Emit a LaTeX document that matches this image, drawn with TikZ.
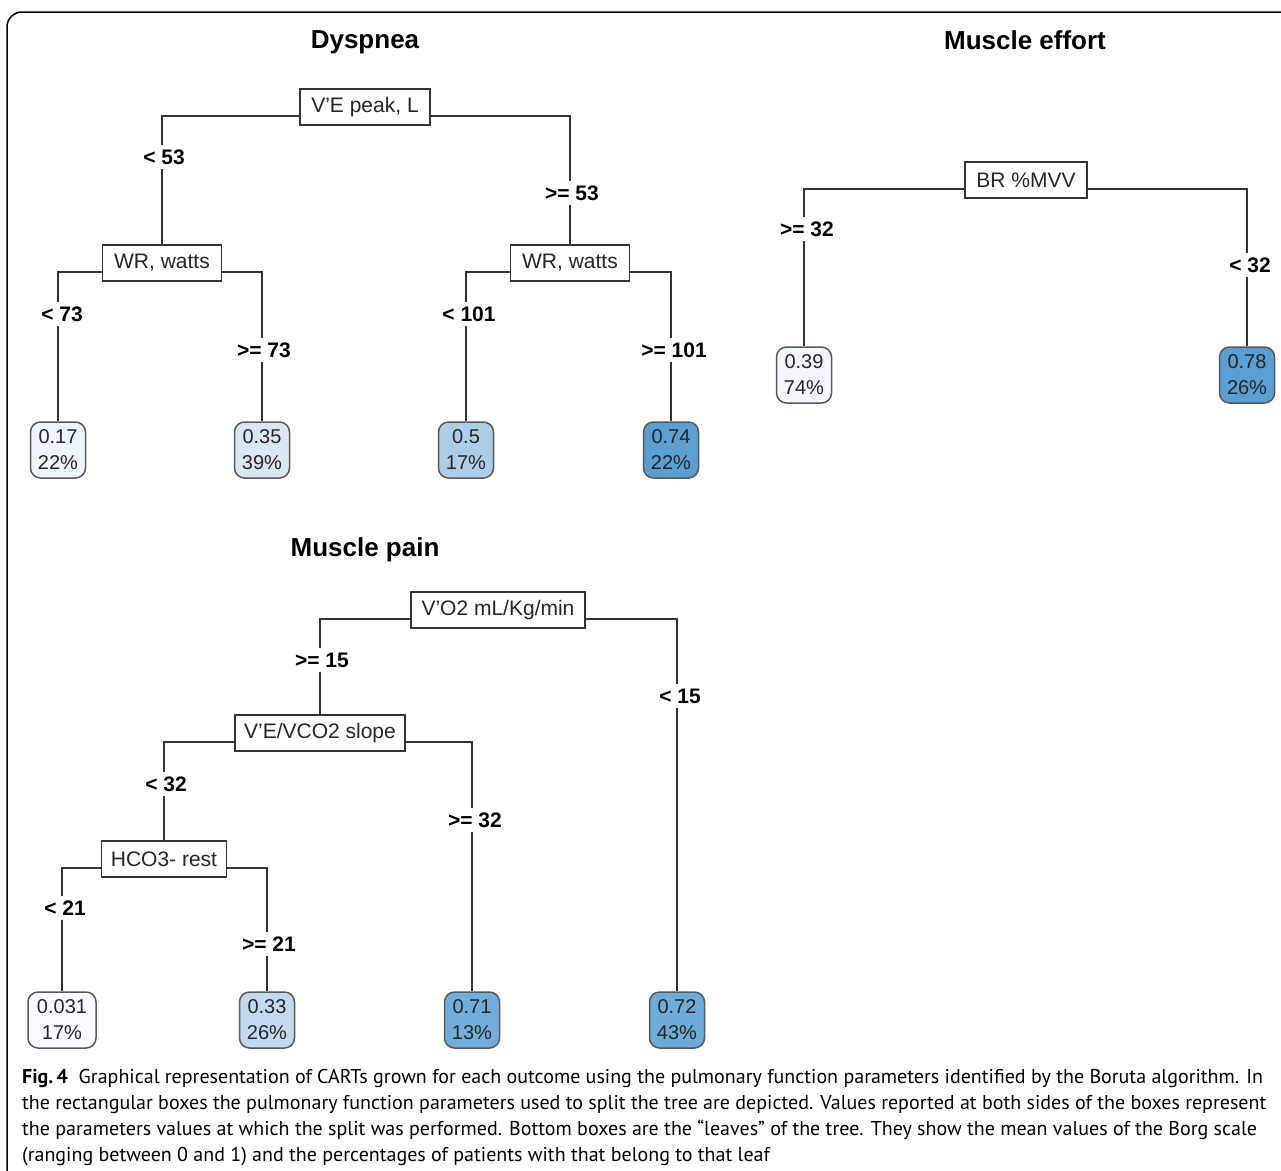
\documentclass[tikz,border=0pt]{standalone}
\usepackage{fontspec}
\setmainfont{Liberation Sans}
\newfontfamily\capfont{PT Sans}
\definecolor{edge}{HTML}{333333}
\definecolor{cA}{HTML}{EEF5FC}
\definecolor{cB}{HTML}{D9E7F5}
\definecolor{cC}{HTML}{ADCDE9}
\definecolor{cD}{HTML}{5C9ED2}
\definecolor{cE}{HTML}{F2F8FD}
\definecolor{cF}{HTML}{5A9ED3}
\definecolor{cG}{HTML}{FAFCFF}
\definecolor{cH}{HTML}{C3D9EF}
\definecolor{cI}{HTML}{72AEDB}
\definecolor{cJ}{HTML}{6EABD9}
\begin{document}
\begin{tikzpicture}[x=1pt,y=-1pt,
  splitbox/.style={draw=edge, line width=1.6pt, fill=white, inner sep=0pt,
    minimum height=36pt, text=black!85, font=\fontsize{21}{21}\selectfont},
  leafbox/.style={draw=black!65, line width=1.5pt, rounded corners=10pt,
    minimum width=55pt, minimum height=56pt, align=center, inner sep=3pt,
    text=black!85, font=\fontsize{20}{26}\selectfont},
  cond/.style={fill=white, inner sep=5pt, font=\bfseries\fontsize{21}{21}\selectfont},
  ttl/.style={font=\bfseries\fontsize{26}{26}\selectfont},
  wire/.style={draw=edge, line width=1.6pt},
  capline/.style={anchor=base west, inner sep=0pt, font=\capfont\fontsize{20}{26}\selectfont}]
\useasboundingbox (0,0) rectangle (1281,1170);
\fill[white] (0,0) rectangle (1281,1170);
\draw[line width=1.5pt, rounded corners=15pt] (7,1180) -- (7,12) -- (1295,12);

% ---------- Dyspnea ----------
\node[ttl] (t1) at (365,42) {Dyspnea};
\node[splitbox, minimum width=130pt] (r1) at (365,107) {V'E peak, L};
\node[splitbox, minimum width=119pt] (a1) at (162,263) {WR, watts};
\node[splitbox, minimum width=119pt] (a2) at (570,263) {WR, watts};
\node[leafbox, fill=cA] (L1) at (58,450) {0.17\\22\%};
\node[leafbox, fill=cB] (L2) at (262,450) {0.35\\39\%};
\node[leafbox, fill=cC] (L3) at (466,450) {0.5\\17\%};
\node[leafbox, fill=cD] (L4) at (671,450) {0.74\\22\%};
\draw[wire] ([yshift=-9pt]r1.west) -| (a1.north);
\draw[wire] ([yshift=-9pt]r1.east) -| (a2.north);
\draw[wire] ([yshift=-9pt]a1.west) -| (L1.north);
\draw[wire] ([yshift=-9pt]a1.east) -| (L2.north);
\draw[wire] ([yshift=-9pt]a2.west) -| (L3.north);
\draw[wire] ([yshift=-9pt]a2.east) -| (L4.north);
\node[cond] (k1) at (164,157) {< 53};
\node[cond] (k2) at (572,193) {>= 53};
\node[cond] (k3) at (62,314) {< 73};
\node[cond] (k4) at (264,350) {>= 73};
\node[cond] (k5) at (469,314) {< 101};
\node[cond] (k6) at (674,350) {>= 101};

% ---------- Muscle effort ----------
\node[ttl] (t2) at (1025,40) {Muscle effort};
\node[splitbox, minimum width=122pt] (r2) at (1026,180) {BR \%MVV};
\node[leafbox, fill=cE] (L5) at (804,375) {0.39\\74\%};
\node[leafbox, fill=cF] (L6) at (1247,375) {0.78\\26\%};
\draw[wire] ([yshift=-9pt]r2.west) -| (L5.north);
\draw[wire] ([yshift=-9pt]r2.east) -| (L6.north);
\node[cond] (k7) at (807,229) {>= 32};
\node[cond] (k8) at (1250,265) {< 32};

% ---------- Muscle pain ----------
\node[ttl] (t3) at (365,550) {Muscle pain};
\node[splitbox, minimum width=174pt] (r3) at (498,610) {V'O2 mL/Kg/min};
\node[splitbox, minimum width=170pt] (b1) at (320,733) {V'E/VCO2 slope};
\node[splitbox, minimum width=125pt] (b2) at (164,859) {HCO3- rest};
\node[leafbox, fill=cG, minimum width=68pt] (L7) at (62,1020) {0.031\\17\%};
\node[leafbox, fill=cH] (L8) at (267,1020) {0.33\\26\%};
\node[leafbox, fill=cI] (L9) at (472,1020) {0.71\\13\%};
\node[leafbox, fill=cJ] (L10) at (677,1020) {0.72\\43\%};
\draw[wire] ([yshift=-9pt]r3.west) -| (b1.north);
\draw[wire] ([yshift=-9pt]r3.east) -| (L10.north);
\draw[wire] ([yshift=-9pt]b1.west) -| (b2.north);
\draw[wire] ([yshift=-9pt]b1.east) -| (L9.north);
\draw[wire] ([yshift=-9pt]b2.west) -| (L7.north);
\draw[wire] ([yshift=-9pt]b2.east) -| (L8.north);
\node[cond] (k9) at (322,660) {>= 15};
\node[cond] (k10) at (680,696) {< 15};
\node[cond] (k11) at (166,784) {< 32};
\node[cond] (k12) at (475,820) {>= 32};
\node[cond] (k13) at (65,908) {< 21};
\node[cond] (k14) at (269,944) {>= 21};

% ---------- Caption ----------
\node[capline] (cap1) at (22,1083) {\textbf{Fig.\,4}\ \ Graphical representation of CARTs grown for each outcome using the pulmonary function parameters identified by the Boruta algorithm. In};
\node[capline] (cap2) at (22,1109) {the rectangular boxes the pulmonary function parameters used to split the tree are depicted. Values reported at both sides of the boxes represent};
\node[capline] (cap3) at (22,1135) {the parameters values at which the split was performed. Bottom boxes are the “leaves” of the tree. They show the mean values of the Borg scale};
\node[capline] (cap4) at (22,1161) {(ranging between 0 and 1) and the percentages of patients with that belong to that leaf};
\end{tikzpicture}
\end{document}
